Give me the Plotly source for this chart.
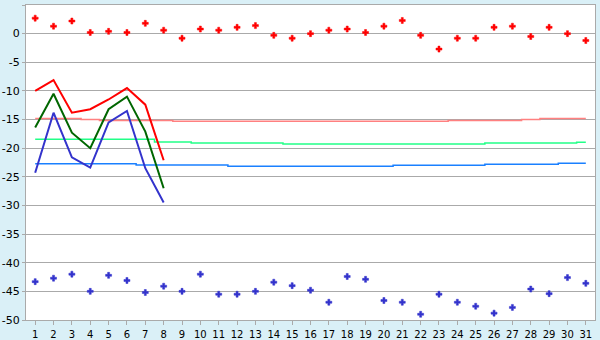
import plotly.graph_objects as go

days = list(range(1, 32))

# daily maximum (red points) and minimum (blue points)
max_temp = [2.7, 1.3, 2.2, 0.2, 0.4, 0.2, 1.8, 0.6, -0.8, 0.8, 0.6, 1.1, 1.4, -0.3, -0.8, 0.0,
            0.6, 0.8, 0.2, 1.3, 2.3, -0.3, -2.7, -0.8, -0.8, 1.1, 1.3, -0.5, 1.1, 0.0, -1.2]
min_temp = [-43.3, -42.7, -42.0, -45.0, -42.2, -43.1, -45.2, -44.1, -45.0, -42.0, -45.5, -45.5,
            -45.0, -43.4, -44.0, -44.8, -46.9, -42.4, -42.9, -46.6, -46.9, -49.0, -45.5, -46.9,
            -47.6, -48.8, -47.8, -44.6, -45.4, -42.6, -43.6]

# current-month lines (days 1-8)
line_days = [1, 2, 3, 4, 5, 6, 7, 8]
line_max = [-10.0, -8.1, -13.8, -13.2, -11.5, -9.5, -12.4, -22.1]
line_mean = [-16.4, -10.5, -17.3, -20.0, -13.2, -11.0, -17.1, -27.0]
line_min = [-24.3, -13.8, -21.6, -23.4, -15.5, -13.5, -23.5, -29.5]

# normals (step lines)
norm_max = [-14.8, -14.8, -14.8, -15.0, -15.15, -15.15, -15.15, -15.15, -15.3, -15.3, -15.3,
            -15.3, -15.3, -15.3, -15.3, -15.3, -15.3, -15.3, -15.3, -15.3, -15.3, -15.3, -15.3,
            -15.15, -15.15, -15.15, -15.15, -15.0, -14.8, -14.8, -14.8]
norm_mean = [-18.45, -18.45, -18.45, -18.45, -18.45, -18.45, -18.45, -18.9, -18.9, -19.1, -19.1,
             -19.1, -19.1, -19.1, -19.27, -19.27, -19.27, -19.27, -19.27, -19.27, -19.27, -19.27,
             -19.27, -19.27, -19.27, -19.1, -19.1, -19.1, -19.1, -19.1, -18.97]
norm_min = [-22.7, -22.7, -22.7, -22.7, -22.7, -22.7, -22.95, -22.95, -22.95, -22.95, -22.95,
            -23.15, -23.15, -23.15, -23.15, -23.15, -23.15, -23.15, -23.15, -23.15, -22.99,
            -22.99, -22.99, -22.99, -22.99, -22.82, -22.82, -22.82, -22.82, -22.65, -22.65]

y_ticks = [-50, -45, -40, -35, -30, -25, -20, -15, -10, -5, 0, 5]
y_ticktext = ["-50", "-45", "-40", "-35", "-30", "-25", "-20", "-15", "-10", "-5", "0", "5"]

fig = go.Figure()

for vals, col in [(norm_max, "#ff8080"), (norm_mean, "#22ff88"), (norm_min, "#1a80ff")]:
    fig.add_trace(go.Scatter(x=days, y=vals, mode="lines", line=dict(color=col, width=1.5, shape="hvh"),
                             hoverinfo="skip"))

for vals, col in [(line_max, "#ff0000"), (line_mean, "#006600"), (line_min, "#3333cc")]:
    fig.add_trace(go.Scatter(x=line_days, y=vals, mode="lines", line=dict(color=col, width=2)))

fig.add_trace(go.Scatter(x=days, y=max_temp, mode="markers",
                         marker=dict(symbol="cross", size=5, color="#ff0000", line=dict(width=0.5, color="#ff0000"))))
fig.add_trace(go.Scatter(x=days, y=min_temp, mode="markers",
                         marker=dict(symbol="cross", size=5, color="#3333cc", line=dict(width=0.5, color="#3333cc"))))

fig.update_layout(
    width=600, height=340,
    margin=dict(l=26, r=5, t=5, b=20),
    paper_bgcolor="#daf0f7",
    plot_bgcolor="#ffffff",
    showlegend=False,
    font=dict(family="DejaVu Sans", size=10, color="#000000"),
)
fig.update_xaxes(
    range=[0.5, 31.5], tickmode="array", tickvals=days, ticktext=[str(d) for d in days],
    ticks="outside", ticklen=4, tickcolor="#aaaaaa", showgrid=False, zeroline=False,
    showline=True, linecolor="#aaaaaa", linewidth=1, mirror=True, automargin=False,
    ticklabelstandoff=1,
)
fig.update_yaxes(
    range=[-50, 5], tickmode="array", tickvals=y_ticks, ticktext=y_ticktext,
    ticks="outside", ticklen=3, tickcolor="#aaaaaa", showgrid=True, gridcolor="#aaaaaa",
    gridwidth=1, zeroline=False, showline=True, linecolor="#aaaaaa", linewidth=1, mirror=True,
    automargin=False, tickfont=dict(size=11),
)

fig.write_html("out.html")
